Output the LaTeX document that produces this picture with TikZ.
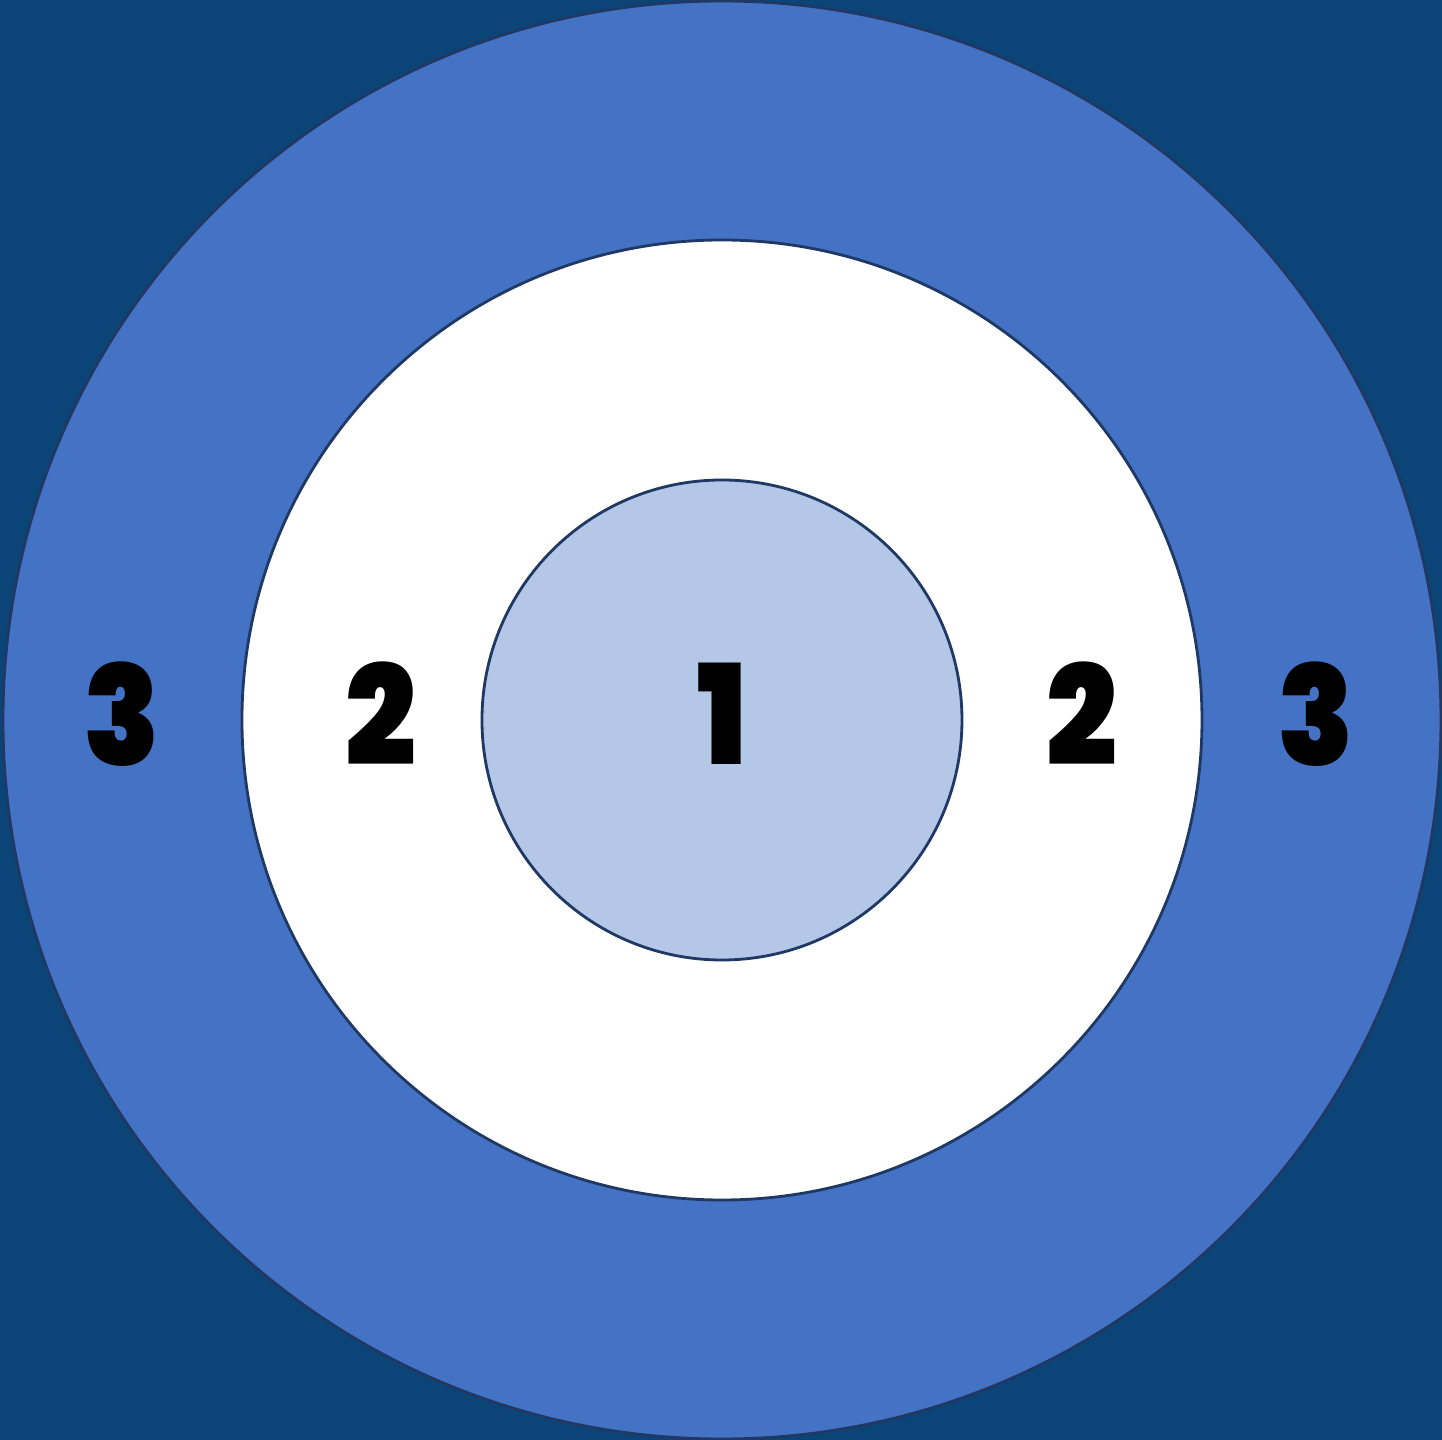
\documentclass[tikz,border=0pt]{standalone}
\usepackage{fontspec}
\setmainfont{Poppins}[BoldFont={Poppins Black}]
\usepackage{tikz}
\usepackage{xcolor}
\definecolor{bgblue}{HTML}{0B4477}
\definecolor{ringblue}{HTML}{4472C4}
\definecolor{coreblue}{HTML}{B4C7E7}
\definecolor{edgeblue}{HTML}{1F3864}
\begin{document}
\begin{tikzpicture}[
		ring/.style={draw=edgeblue, line width=0.8pt},
		digit/.style={font=\fontsize{39.5}{40}\selectfont\bfseries, text=black, inner sep=0pt, xscale=0.9}
	]
		
		% Background
		\fill[bgblue] (-7.22,-7.20) rectangle (7.20,7.20);
		\useasboundingbox (-7.22,-7.20) rectangle (7.20,7.20);
		
		% Rings
		\draw[ring, fill=ringblue] (0,0) circle (7.19);
		\draw[ring, fill=white] (0,0) circle (4.80);
		\draw[ring, fill=coreblue] (0,0) circle (2.40);
		
		% Zone numbers
		\node[digit] (one) at (0,0.06) {1};
		\node[digit] (twoL) at (-3.41,0.06) {2};
		\node[digit] (twoR) at (3.60,0.06) {2};
		\node[digit] (threeL) at (-6.00,0.06) {3};
		\node[digit] (threeR) at (5.94,0.06) {3};
		
	\end{tikzpicture}
\end{document}
